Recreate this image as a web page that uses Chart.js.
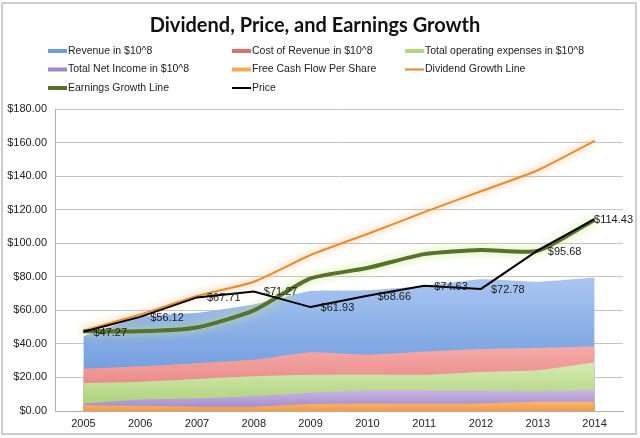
<!DOCTYPE html>
<html>
<head>
<meta charset="utf-8">
<script src="https://cdn.jsdelivr.net/npm/chart.js@4.4.1/dist/chart.umd.min.js"></script>
<style>
html,body{margin:0;padding:0;background:#fff;}
#wrap{position:relative;width:640px;height:438px;}
</style>
</head>
<body>
<div id="wrap"><canvas id="c" width="640" height="438"></canvas></div>
<script>
const years = ['2005','2006','2007','2008','2009','2010','2011','2012','2013','2014'];
const revenue = [44.5, 56, 58.5, 63.5, 71.5, 72, 74.5, 78.5, 77, 79.5];
const costOfRevenue = [25.2, 26.6, 28.5, 30.5, 35, 33.6, 35.5, 37, 37.6, 38.4];
const operatingExpenses = [16.7, 17.5, 19.1, 20.7, 21.6, 21.8, 21.6, 23.3, 24.3, 29.1];
const netIncome = [4.5, 6.9, 7.5, 8.9, 11, 12.4, 12.4, 12.4, 11.8, 12.8];
const freeCashFlow = [3.5, 3.1, 2.6, 2.6, 4.1, 4.5, 4.3, 4.5, 5.5, 5.5];
const dividendGrowth = [48, 57.5, 68.5, 77, 93, 105.5, 118.5, 131, 143.5, 161];
const earningsGrowth = [47.5, 47.5, 49.8, 60, 79, 85.2, 93.5, 96, 95.4, 114];
const price = [47.27, 56.12, 67.71, 71.27, 61.93, 68.66, 74.63, 72.78, 95.68, 114.43];
const priceLabels = ['$47.27','$56.12','$67.71','$71.27','$61.93','$68.66','$74.63','$72.78','$95.68','$114.43'];
const yTickLabels = ['$0.00','$20.00','$40.00','$60.00','$80.00','$100.00','$120.00','$140.00','$160.00','$180.00'];

const FONT = '"Liberation Sans", Arial, sans-serif';

function areaGradient(top, bottom, values) {
  return function(ctx) {
    const chart = ctx.chart;
    const area = chart.chartArea;
    if (!area) return bottom;
    const y = chart.scales.y;
    const yTop = y.getPixelForValue(Math.max.apply(null, values));
    const yBot = y.getPixelForValue(0);
    const g = chart.ctx.createLinearGradient(0, yTop, 0, yBot);
    g.addColorStop(0, top);
    g.addColorStop(1, bottom);
    return g;
  };
}

function areaDS(label, data, top, bottom, order) {
  return {
    label: label, data: data, order: order,
    fill: 'origin', borderWidth: 0, pointRadius: 0, tension: 0.15,
    borderColor: 'rgba(0,0,0,0)',
    backgroundColor: areaGradient(top, bottom, data)
  };
}

const legendItems = [
  {text: 'Revenue in $10^8', color: '#6C9CE0', w: 4},
  {text: 'Cost of Revenue in $10^8', color: '#E0706E', w: 4},
  {text: 'Total operating expenses in $10^8', color: '#B4D97C', w: 4},
  {text: 'Total Net Income in $10^8', color: '#A088CA', w: 4},
  {text: 'Free Cash Flow Per Share', color: '#F8A957', w: 4},
  {text: 'Dividend Growth Line', color: '#E9852A', w: 2},
  {text: 'Earnings Growth Line', color: '#58702E', w: 4},
  {text: 'Price', color: '#000000', w: 2}
];

const customPlugin = {
  id: 'custom',
  beforeDraw(chart) {
    const c = chart.ctx;
    c.save();
    c.fillStyle = '#fff';
    c.fillRect(0, 0, chart.width, chart.height);
    c.strokeStyle = '#CDCDCD';
    c.lineWidth = 2;
    c.strokeRect(2, 3, 634, 431);
    c.restore();
  },
  beforeDatasetDraw(chart, args) {
    const ds = chart.data.datasets[args.index];
    if (ds.glowColor) {
      const c = chart.ctx;
      c.save();
      c.shadowColor = ds.glowColor;
      c.shadowBlur = ds.glowBlur;
      c.shadowOffsetX = 0;
      c.shadowOffsetY = 0;
    }
  },
  afterDatasetDraw(chart, args) {
    const ds = chart.data.datasets[args.index];
    if (ds.glowColor) {
      chart.ctx.restore();
    }
  },
  afterDatasetsDraw(chart) {
    const c = chart.ctx;
    const idx = chart.data.datasets.findIndex(d => d.label === 'Price');
    const meta = chart.getDatasetMeta(idx);
    c.save();
    c.font = '11px ' + FONT;
    c.fillStyle = '#1a1a1a';
    c.textBaseline = 'middle';
    c.textAlign = 'left';
    meta.data.forEach((pt, i) => {
      const t = priceLabels[i];
      const w = c.measureText(t).width;
      let x = pt.x + 10;
      if (x + w > 633) x = 633 - w;
      c.fillText(t, x, pt.y + 1);
    });
    c.restore();
  },
  afterDraw(chart) {
    const c = chart.ctx;
    const colsX = [68, 252, 425];
    const rowsY = [51, 69.5, 88];
    c.save();
    c.font = '10.5px ' + FONT;
    c.textBaseline = 'middle';
    c.textAlign = 'left';
    legendItems.forEach((it, i) => {
      const x = colsX[i % 3];
      const y = rowsY[Math.floor(i / 3)];
      c.fillStyle = it.color;
      c.fillRect(x - 20, y - it.w / 2, 19, it.w);
      c.fillStyle = '#222';
      c.fillText(it.text, x, y);
    });
    c.restore();
  }
};

const chart = new Chart(document.getElementById('c'), {
  type: 'line',
  data: {
    labels: years,
    datasets: [
      areaDS('Revenue in $10^8', revenue, '#A9C6F1', '#5C8DD7', 8),
      areaDS('Cost of Revenue in $10^8', costOfRevenue, '#F5ABA9', '#E07472', 7),
      areaDS('Total operating expenses in $10^8', operatingExpenses, '#D6EAB2', '#A9CF74', 6),
      areaDS('Total Net Income in $10^8', netIncome, '#CBB9E3', '#9A84C8', 5),
      areaDS('Free Cash Flow Per Share', freeCashFlow, '#FBB470', '#F39B48', 4),
      {
        label: 'Dividend Growth Line', data: dividendGrowth, order: 3,
        borderColor: '#EE8A2C', borderWidth: 2, pointRadius: 0, fill: false, tension: 0.2,
        glowColor: 'rgba(250,165,90,1)', glowBlur: 9
      },
      {
        label: 'Earnings Growth Line', data: earningsGrowth, order: 2,
        borderColor: '#56722C', borderWidth: 4, pointRadius: 0, fill: false, tension: 0.2,
        glowColor: 'rgba(200,230,130,1)', glowBlur: 10
      },
      {
        label: 'Price', data: price, order: 1,
        borderColor: '#000000', borderWidth: 2, pointRadius: 0, fill: false, tension: 0
      }
    ]
  },
  options: {
    responsive: false,
    animation: false,
    events: [],
    layout: { padding: { left: 7, right: 17, top: 0, bottom: 4 } },
    plugins: {
      legend: { display: false },
      tooltip: { enabled: false },
      title: {
        display: true,
        text: 'Dividend, Price, and Earnings Growth',
        color: '#111',
        font: { family: 'Lato, "Open Sans", sans-serif', size: 20, weight: 'bold', lineHeight: 1.2 },
        padding: { top: 14, bottom: 71 }
      }
    },
    scales: {
      x: {
        offset: true,
        grid: { display: false, drawTicks: false },
        border: { display: true, color: '#AFAFAF', width: 1 },
        ticks: { color: '#222', font: { family: FONT, size: 11 }, padding: 6, maxRotation: 0, autoSkip: false },
        afterFit(s) { s.height = 23; }
      },
      y: {
        min: 0, max: 180,
        grid: { color: '#C4C4C4', lineWidth: 1, drawTicks: false },
        border: { display: true, color: '#AFAFAF', width: 1 },
        ticks: {
          stepSize: 20, padding: 8, color: '#222',
          font: { family: FONT, size: 11 },
          callback: (v, i) => yTickLabels[i]
        },
        afterFit(s) { s.width = 48; }
      }
    }
  },
  plugins: [customPlugin]
});
</script>
</body>
</html>
